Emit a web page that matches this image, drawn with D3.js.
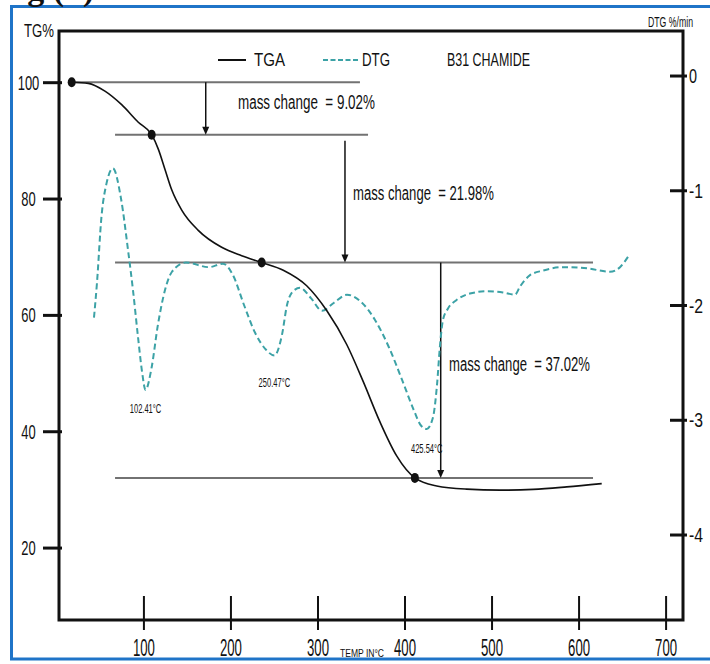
<!DOCTYPE html>
<html>
<head>
<meta charset="utf-8">
<script src="https://cdn.jsdelivr.net/npm/d3@7"></script>
<style>
  html, body { margin: 0; padding: 0; background: #fff; }
  svg { display: block; }
  text { font-family: "Liberation Sans Narrow", "Arial Narrow", "Liberation Sans", sans-serif; fill: #111; white-space: pre; }
</style>
</head>
<body>
<svg id="chart" width="710" height="664"></svg>
<script>
// Thermogram of B31 CHAMIDE: TGA mass curve (left axis) and DTG rate curve (right axis)

// axis ticks
const tempTicks = [100, 200, 300, 400, 500, 600, 700];
const tgTicks = [100, 80, 60, 40, 20];
const dtgTicks = [0, -1, -2, -3, -4];

// TGA series: temperature (°C) and residual mass (%)
const tgaTemp = [17.6, 36.7, 55.8, 75.0, 94.1, 109.5, 117.1, 124.8, 132.5, 144.0, 163.0, 189.9, 212.9, 235.9,
                 260.7, 287.6, 310.6, 333.6, 352.6, 371.8, 391.0, 411.9, 437.0, 471.4, 509.7, 548.0, 586.4, 626.6];
const tgaMass = [100, 99.8, 98.46, 96.13, 93.12, 90.98, 88.49, 85.0, 81.51, 78.02, 74.53, 71.62, 70.17, 69.0,
                 67.68, 65.01, 60.75, 54.91, 48.53, 41.6, 35.76, 31.98, 30.6, 30.04, 29.87, 30.0, 30.43, 31.0];

// DTG series: temperature (°C) and rate (%/min)
const dtgTemp = [43.2, 46.6, 51.8, 57.6, 65.0, 74.2, 82.3, 88.0, 93.8, 98.4, 102.41, 109.3, 116.7, 124.8, 132.8,
                 148.9, 175.3, 191.4, 202.9, 215.6, 228.2, 240.9, 250.47, 259.2, 265.0, 271.9, 279.9, 292.5,
                 305.2, 319.0, 333.9, 351.1, 366.1, 382.2, 397.1, 410.9, 418.9, 425.54, 432.7, 437.3, 440.8,
                 444.2, 450.0, 459.2, 475.2, 494.7, 513.1, 526.9, 532.7, 544.2, 559.1, 582.1, 609.7, 636.1,
                 647.6, 656.8];
const dtgRate = [-2.11, -1.81, -1.23, -0.94, -0.81, -1.07, -1.52, -1.87, -2.28, -2.58, -2.74, -2.55, -2.17, -1.87,
                 -1.71, -1.63, -1.67, -1.64, -1.74, -2.00, -2.24, -2.39, -2.44, -2.26, -2.00, -1.88, -1.85, -1.94,
                 -2.05, -1.98, -1.91, -1.98, -2.13, -2.37, -2.65, -2.92, -3.05, -3.08, -2.98, -2.70, -2.35,
                 -2.13, -2.03, -1.96, -1.90, -1.88, -1.89, -1.91, -1.84, -1.74, -1.70, -1.67, -1.68, -1.71,
                 -1.67, -1.58];

// DTG peak temperatures (°C)
const peakTemps = [102.41, 250.47, 425.54];

// mass-loss steps (%) and the temperature where each step arrow is drawn
const stepLoss = [9.02, 21.98, 37.02];
const stepTemp = [171.6, 331.6, 441.6];
// plateau reference lines: start mass, onset points and temperature spans
const startMass = 100;
const levelDotTemp = [17.6, 109.5, 235.9, 411.9];
const levelFrom = [17.6, 67.4, 67.4, 67.4];
const levelTo = [348.8, 358.1, 616.6, 616.6];

const svg = d3.select("#chart");

// frame of the figure
svg.append("rect").attr("x", 11.5).attr("y", 6.5).attr("width", 720).attr("height", 652.5)
  .attr("fill", "none").attr("stroke", "#1f74c8").attr("stroke-width", 3);
svg.append("text").attr("x", -3).attr("y", 0)
  .style("font-family", "'Liberation Serif', serif").style("font-weight", "bold").style("font-size", "34px")
  .text("Fig (b)");

// scales
const x = d3.scaleLinear().domain([3, 720]).range([59, 683]);
const yTG = d3.scaleLinear().domain([7.55, 108.8]).range([620, 31]);
const yDTG = d3.scaleLinear().domain([-4.745, 0.388]).range([620, 31]);

const [x0, x1] = x.range();
const [yb, yt] = yTG.range();

// plateau levels derived from the successive losses
const levels = [startMass];
stepLoss.forEach((d, i) => levels.push(+(levels[i] - d).toFixed(2)));

function label(g, str, px, py, size, len, anchor) {
  const t = g.append("text").attr("x", px).attr("y", py).style("font-size", size + "px").text(str);
  if (anchor) t.attr("text-anchor", anchor);
  if (len) t.attr("textLength", len).attr("lengthAdjust", "spacingAndGlyphs");
  return t;
}

// axes
const gx = svg.append("g").attr("transform", `translate(0,${yb})`)
  .call(d3.axisBottom(x).tickValues(tempTicks).tickSize(0).tickFormat(d => String(d)));
gx.select(".domain").remove();
gx.attr("font-family", null).attr("font-size", null);
gx.selectAll(".tick line").attr("y1", 10).attr("y2", -24).attr("stroke", "#111").attr("stroke-width", 2);
gx.selectAll(".tick text").attr("y", 36).attr("dy", null).attr("fill", "#111")
  .style("font-size", "23px").attr("textLength", 22).attr("lengthAdjust", "spacingAndGlyphs");

const gl = svg.append("g").attr("transform", `translate(${x0},0)`)
  .call(d3.axisLeft(yTG).tickValues(tgTicks).tickSize(0).tickFormat(d => String(d)));
gl.select(".domain").remove();
gl.attr("font-family", null).attr("font-size", null);
gl.selectAll(".tick line").attr("x1", 3).attr("x2", -16).attr("stroke", "#111").attr("stroke-width", 3);
gl.selectAll(".tick text").attr("x", -30.5).attr("dy", "0.36em").attr("text-anchor", "middle").attr("fill", "#111")
  .style("font-size", "19.5px").attr("textLength", d => String(d).length * 7.2).attr("lengthAdjust", "spacingAndGlyphs");

const gr = svg.append("g").attr("transform", `translate(${x1},0)`)
  .call(d3.axisRight(yDTG).tickValues(dtgTicks).tickSize(0).tickFormat(d => String(d)));
gr.select(".domain").remove();
gr.attr("font-family", null).attr("font-size", null);
gr.selectAll(".tick line").attr("x1", -13).attr("x2", 4).attr("stroke", "#111").attr("stroke-width", 3);
gr.selectAll(".tick text").attr("x", 6).attr("dy", "0.36em").attr("text-anchor", "start").attr("fill", "#111")
  .style("font-size", "20px").attr("textLength", d => d === 0 ? 8 : 14).attr("lengthAdjust", "spacingAndGlyphs");

// plot box
svg.append("rect").attr("x", x0).attr("y", yt).attr("width", x1 - x0).attr("height", yb - yt)
  .attr("fill", "none").attr("stroke", "#111").attr("stroke-width", 3);

// axis titles
label(svg, "TG%", 24, 36.5, 19, 30);
label(svg, "DTG %/min", 648, 27, 14, 45);
label(svg, "TEMP IN°C", 340, 657, 11, 44);

// legend
svg.append("line").attr("x1", 218).attr("x2", 246).attr("y1", 60).attr("y2", 60)
  .attr("stroke", "#111").attr("stroke-width", 2);
label(svg, "TGA", 254, 66, 18, 31);
svg.append("line").attr("x1", 323).attr("x2", 358).attr("y1", 60).attr("y2", 60)
  .attr("stroke", "#3ca2a6").attr("stroke-width", 2).attr("stroke-dasharray", "5,2.5");
label(svg, "DTG", 362, 66, 18, 28);
label(svg, "B31 CHAMIDE", 447, 66, 18, 83);

// plateau lines
const gLev = svg.append("g");
levels.forEach((lv, i) => {
  gLev.append("line")
    .attr("x1", x(levelFrom[i])).attr("x2", x(levelTo[i]))
    .attr("y1", yTG(lv)).attr("y2", yTG(lv))
    .attr("stroke", "#727272").attr("stroke-width", 2);
});

// mass-change arrows
const gArr = svg.append("g");
const stepGap = [0, 6, 0];
stepLoss.forEach((d, i) => {
  const ax = x(stepTemp[i]);
  const yFrom = yTG(levels[i]) + stepGap[i];
  const yTo = yTG(levels[i + 1]);
  gArr.append("line").attr("x1", ax).attr("x2", ax).attr("y1", yFrom).attr("y2", yTo - 7)
    .attr("stroke", "#111").attr("stroke-width", 1.5);
  gArr.append("path")
    .attr("d", `M${ax - 3.5},${yTo - 8}L${ax + 3.5},${yTo - 8}L${ax},${yTo}Z`)
    .attr("fill", "#111");
});
const stepLabelX = [238, 353, 449];
const stepLabelLen = [137, 141, 141];
stepLoss.forEach((d, i) => {
  const mid = (levels[i] + levels[i + 1]) / 2;
  label(svg, "mass change  = " + d.toFixed(2) + "%", stepLabelX[i], yTG(mid) + 1, 20, stepLabelLen[i]);
});

// DTG curve
const dtg = dtgTemp.map((t, i) => ({ t, v: dtgRate[i] }));
svg.append("path").datum(dtg)
  .attr("d", d3.line().x(d => x(d.t)).y(d => yDTG(d.v)).curve(d3.curveMonotoneX))
  .attr("fill", "none").attr("stroke", "#3ca2a6").attr("stroke-width", 2).attr("stroke-dasharray", "6,3.5");

// peak temperature labels below each DTG minimum
const labelDrop = [23, 31, 24];
peakTemps.forEach((pt, i) => {
  const v = dtgRate[dtgTemp.indexOf(pt)];
  label(svg, pt.toFixed(2) + "°C", x(pt), yDTG(v) + labelDrop[i], 13, 31.5, "middle");
});

// TGA curve
const tga = tgaTemp.map((t, i) => ({ t, m: tgaMass[i] }));
svg.append("path").datum(tga)
  .attr("d", d3.line().x(d => x(d.t)).y(d => yTG(d.m)).curve(d3.curveMonotoneX))
  .attr("fill", "none").attr("stroke", "#111").attr("stroke-width", 1.6);

// onset points on the plateau lines
svg.append("g").selectAll("ellipse").data(levels).join("ellipse")
  .attr("cx", (d, i) => x(levelDotTemp[i])).attr("cy", d => yTG(d))
  .attr("rx", 4).attr("ry", 5).attr("fill", "#111");
</script>
</body>
</html>
